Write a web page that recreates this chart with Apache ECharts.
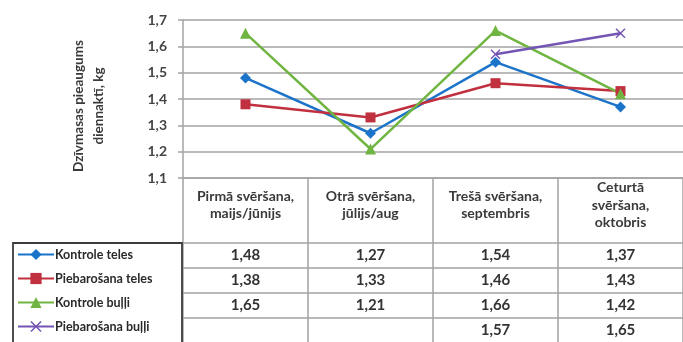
<!DOCTYPE html>
<html>
<head>
<meta charset="utf-8">
<script src="https://cdn.jsdelivr.net/npm/echarts@6/dist/echarts.min.js"></script>
<style>
  html, body { margin: 0; padding: 0; background: #fff; }
  #chart { width: 683px; height: 342px; }
</style>
</head>
<body>
<div id="chart"></div>
<script>
// Weighing periods (x categories)
const categories = [
  'Pirmā svēršana,\nmaijs/jūnijs',
  'Otrā svēršana,\njūlijs/aug',
  'Trešā svēršana,\nseptembris',
  'Ceturtā\nsvēršana,\noktobris'
];

// Daily live-weight gain, kg
const seriesNames = ['Kontrole teles', 'Piebarošana teles', 'Kontrole buļļi', 'Piebarošana buļļi'];
const kontroleTeles = [1.48, 1.27, 1.54, 1.37];
const piebarosanaTeles = [1.38, 1.33, 1.46, 1.43];
const kontroleBulli = [1.65, 1.21, 1.66, 1.42];
const piebarosanaBulli = [null, null, 1.57, 1.65];

// Value axis ticks
const yTicks = [1.1, 1.2, 1.3, 1.4, 1.5, 1.6, 1.7];

const FONT = 'Lato, "Open Sans", sans-serif';
const colors = ['#1b74c9', '#c0303f', '#70b542', '#7454b4'];
const symbols = ['diamond', 'rect', 'triangle',
  'path://M0,1L1,0L5,4L9,0L10,1L6,5L10,9L9,10L5,6L1,10L0,9L4,5Z'];
const symbolSizes = [11, 10, 11, 10];
const allValues = [kontroleTeles, piebarosanaTeles, kontroleBulli, piebarosanaBulli];

const fmt = v => (v == null ? '' : v.toFixed(2).replace('.', ','));

const gridLine = '#a3a3a3';

// Header row plus one data-table row per series, each as a bottom category axis
const xAxes = [{
  type: 'category',
  data: categories,
  position: 'bottom',
  boundaryGap: true,
  axisLine: { show: true, lineStyle: { color: gridLine, width: 1.5 } },
  axisTick: { show: true, length: 166, lineStyle: { color: gridLine, width: 1.5 } },
  axisLabel: {
    interval: 0, margin: 27, verticalAlign: 'middle',
    fontFamily: FONT, fontSize: 14, fontWeight: 'bold', color: '#3a3a3a', lineHeight: 17.5
  }
}];
allValues.forEach((vals, i) => {
  xAxes.push({
    type: 'category',
    data: vals.map(fmt),
    position: 'bottom',
    offset: 65 + i * 25,
    boundaryGap: true,
    axisLine: { show: true, onZero: false, lineStyle: { color: gridLine, width: 1.5 } },
    axisTick: { show: false },
    axisLabel: {
      interval: 0, margin: 5,
      fontFamily: FONT, fontSize: 15, fontWeight: 'bold', color: '#333'
    }
  });
});

const chart = echarts.init(document.getElementById('chart'), null, { renderer: 'canvas' });
chart.setOption({
  animation: false,
  backgroundColor: '#fff',
  grid: { left: 183, top: 20, right: -3, bottom: 164, containLabel: false },
  legend: {
    orient: 'vertical',
    left: 17,
    top: 248,
    itemWidth: 36,
    itemHeight: 14,
    itemGap: 11,
    padding: 0,
    data: seriesNames,
    textStyle: { fontFamily: FONT, fontSize: 12.5, fontWeight: 'bold', color: '#2a2a2a', padding: [0, 0, 0, -4] }
  },
  graphic: [{
    type: 'rect',
    shape: { x: 13, y: 243, width: 169, height: 120 },
    style: { fill: 'none', stroke: '#3c3c3c', lineWidth: 1.8 },
    z: 100
  }],
  xAxis: xAxes,
  yAxis: {
    type: 'value',
    min: 1.1,
    max: 1.7,
    interval: 0.1,
    name: 'Dzīvmasas pieaugums\ndiennaktī, kg',
    nameLocation: 'middle',
    nameGap: 74,
    nameRotate: 90,
    nameTextStyle: {
      fontFamily: FONT, fontSize: 13.5, fontWeight: 'bold', color: '#3a3a3a',
      lineHeight: 20, padding: [0, 14, 0, 0]
    },
    axisLine: { show: true, lineStyle: { color: gridLine, width: 1.5 } },
    axisTick: { show: true, length: 5, lineStyle: { color: gridLine, width: 1.5 } },
    axisLabel: {
      margin: 16,
      fontFamily: FONT, fontSize: 14, fontWeight: 'bold', color: '#444',
      formatter: v => {
        const t = yTicks.find(k => Math.abs(k - v) < 1e-6);
        return t == null ? '' : t.toFixed(1).replace('.', ',');
      }
    },
    splitLine: { show: true, lineStyle: { color: gridLine, width: 1.5 } }
  },
  series: allValues.map((vals, i) => ({
    name: seriesNames[i],
    type: 'line',
    xAxisIndex: 0,
    data: vals,
    symbol: symbols[i],
    symbolSize: symbolSizes[i],
    showAllSymbol: true,
    connectNulls: false,
    color: colors[i],
    lineStyle: { width: 2.5, color: colors[i] },
    itemStyle: { color: colors[i], borderWidth: 0 }
  }))
});
</script>
</body>
</html>
